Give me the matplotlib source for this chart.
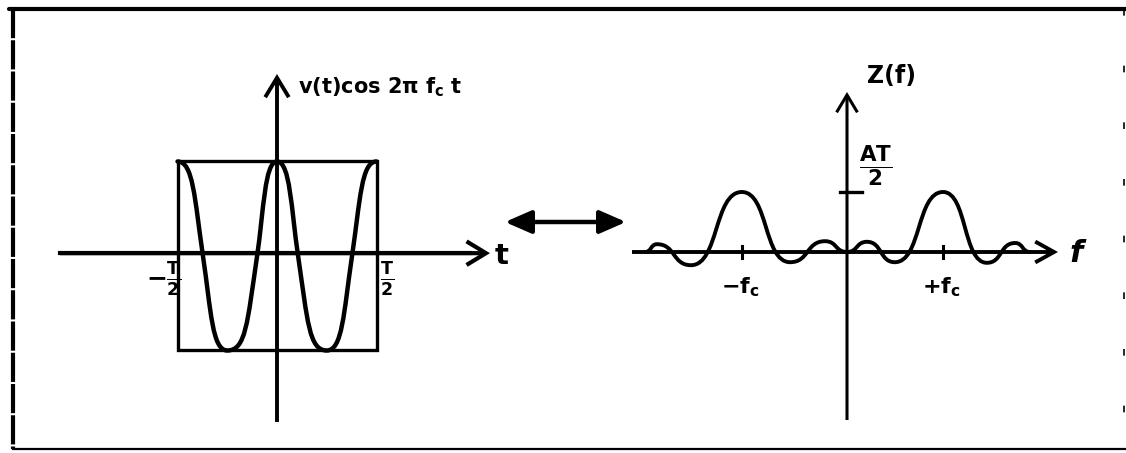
import numpy as np
import matplotlib
matplotlib.use('Agg')
import matplotlib.pyplot as plt
from matplotlib.path import Path
from matplotlib.patches import PathPatch, Rectangle

plt.rcParams['font.family'] = ['DejaVu Sans']
plt.rcParams['mathtext.fontset'] = 'custom'
plt.rcParams['mathtext.rm'] = 'DejaVu Sans:bold'
plt.rcParams['mathtext.it'] = 'DejaVu Sans:bold'
plt.rcParams['mathtext.bf'] = 'DejaVu Sans:bold'

# v(t)cos(2 pi fc t): peaks, troughs and zero crossings,
# t in units of T, amplitude in units of A
t_pts = [-0.5, -0.372, -0.25, -0.10, 0.0, 0.106, 0.25, 0.377, 0.5]
v_pts = [1.0, 0.0, -1.0, 0.0, 1.0, 0.0, -1.0, 0.0, 1.0]
pulse_t = [-0.5, 0.5]      # v(t) = A for |t| < T/2
pulse_a = 1.0
t_ticks = [-0.5, 0.5]
t_tick_labels = [r'$-\frac{T}{2}$', r'$\frac{T}{2}$']

# Z(f): turning points, f in units of 1/T, Z in units of AT/2
f_pts = [-5.99, -5.64, -4.63, -3.12, -1.69, -0.65, 0.0, 0.59, 1.42, 2.85, 4.15, 4.99, 5.43]
z_pts = [0.0, 0.13, -0.22, 1.0, -0.17, 0.18, 0.0, 0.17, -0.17, 1.0, -0.18, 0.15, 0.0]
fc_pos = [-3.12, 2.85]
fc_labels = [r'$-f_c$', r'$+f_c$']
z_peak = 1.0


def smooth_path(xs, ys, k, steep=1.5):
    # cubic Bezier through the points: flat tangent at peaks/troughs,
    # secant slope (scaled by steep) at points where the curve passes through
    n = len(xs)
    slope = []
    for i in range(n):
        if 0 < i < n - 1 and (ys[i] - ys[i - 1]) * (ys[i + 1] - ys[i]) > 0:
            slope.append(steep * (ys[i + 1] - ys[i - 1]) / (xs[i + 1] - xs[i - 1]))
        else:
            slope.append(None)
    verts = [(xs[0], ys[0])]
    codes = [Path.MOVETO]
    for i in range(n - 1):
        x0, y0, x1, y1 = xs[i], ys[i], xs[i + 1], ys[i + 1]
        dx = x1 - x0
        if slope[i] is None:
            c1 = (x0 + k * dx, y0)
        else:
            c1 = (x0 + dx / 3, y0 + slope[i] * dx / 3)
        if slope[i + 1] is None:
            c2 = (x1 - k * dx, y1)
        else:
            c2 = (x1 - dx / 3, y1 - slope[i + 1] * dx / 3)
        verts += [c1, c2, (x1, y1)]
        codes += [Path.CURVE4] * 3
    return Path(verts, codes)


W, H = 1126, 453
fig = plt.figure(figsize=(W / 100, H / 100), dpi=100)


def px_axes(x0, y0, x1, y1):
    ax = fig.add_axes([x0 / W, 1 - y1 / H, (x1 - x0) / W, (y1 - y0) / H])
    ax.set_axis_off()
    ax.patch.set_alpha(0)
    return ax


def arrow(ax, start, tip, lw, hl=1.4, hw=0.8):
    ax.annotate('', xy=tip, xytext=start,
                arrowprops=dict(arrowstyle='->,head_length=%g,head_width=%g' % (hl, hw),
                                lw=lw, color='k', shrinkA=0, shrinkB=0,
                                joinstyle='miter', capstyle='butt'))


# page frame and the double arrow, in pixel units
bg = px_axes(0, 0, W, H)
bg.set_xlim(0, W)
bg.set_ylim(H, 0)
bg.plot([9, 1126], [9, 9], color='k', lw=3.0, solid_capstyle='round')
bg.plot([13, 13], [9, 449], color='k', lw=3.0, dashes=(7, 0.5))
bg.plot([13, 1126], [449, 449], color='k', lw=1.6)
bg.plot([1124, 1124], [9, 449], color='k', lw=1.2, dashes=(4, 30))
bg.annotate('', xy=(626, 222), xytext=(505, 222),
            arrowprops=dict(arrowstyle='<|-|>,head_length=1.6,head_width=0.7',
                            lw=3.2, color='k', shrinkA=0, shrinkB=0))

# ---- left: time signal ----
sx, sy = 199.0, 94.5          # pixels per T, pixels per A
ox, oy = 277.0, 256.0
axl = px_axes(40, 60, 520, 440)
axl.set_xlim((40 - ox) / sx, (520 - ox) / sx)
axl.set_ylim((oy - 440) / sy, (oy - 60) / sy)

axl.add_patch(Rectangle((pulse_t[0], -pulse_a), pulse_t[1] - pulse_t[0], 2 * pulse_a,
                        fill=False, ec='k', lw=2.4))
axl.add_patch(PathPatch(smooth_path(t_pts, v_pts, 0.62, 1.8), fill=False, ec='k',
                        lw=3.2, capstyle='round'))
axl.plot([(60 - ox) / sx, (470 - ox) / sx], [0.03, 0.03], color='k', lw=3.0)
arrow(axl, ((60 - ox) / sx, 0.03), ((490 - ox) / sx, 0.03), 3.0, 1.4, 0.85)
arrow(axl, (0, (oy - 422) / sy), (0, (oy - 74) / sy), 2.8, 1.4, 0.85)
for t, lab in zip(t_ticks, t_tick_labels):
    axl.text(t + (-0.07 if t < 0 else 0.055), (oy - 279) / sy, lab,
             ha='center', va='center', fontsize=18)
axl.text((298 - ox) / sx, (oy - 87) / sy, r'$v(t)\mathrm{cos}\ 2\pi\ f_c\ t$',
         ha='left', va='center', fontsize=15)
axl.text((502 - ox) / sx, (oy - 256) / sy, 't', ha='center', va='center',
         fontsize=21, fontweight='bold')

# ---- right: spectrum ----
fx, fy = 33.7, 60.0           # pixels per 1/T, pixels per AT/2
px0, py0 = 847.0, 252.0
axr = px_axes(600, 60, 1100, 440)
axr.set_xlim((600 - px0) / fx, (1100 - px0) / fx)
axr.set_ylim((py0 - 440) / fy, (py0 - 60) / fy)

axr.add_patch(PathPatch(smooth_path(f_pts, z_pts, 0.55), fill=False, ec='k', lw=2.8,
                        capstyle='round'))
arrow(axr, ((632 - px0) / fx, 0), ((1058 - px0) / fx, 0), 2.8, 1.35, 0.75)
arrow(axr, (0, (py0 - 420) / fy), (0, (py0 - 92) / fy), 2.2, 1.25, 0.75)
axr.plot([-0.2, 0.45], [z_peak, z_peak], color='k', lw=2.4)
for f, lab in zip(fc_pos, fc_labels):
    axr.plot([f, f], [-0.1, 0.1], color='k', lw=2.2)
    axr.text(f - 0.05, -0.58, lab, ha='center', va='center', fontsize=16)
axr.text((876 - px0) / fx, z_peak + (192 - 166) / fy, r'$\frac{AT}{2}$',
         ha='center', va='center', fontsize=22)
axr.text((892 - px0) / fx, (py0 - 76) / fy, 'Z(f)', ha='center', va='center',
         fontsize=17, fontweight='bold')
axr.text((1076 - px0) / fx, (py0 - 254) / fy, 'f', ha='center', va='center',
         fontsize=22, fontweight='bold', style='italic')

fig.savefig('out.png', dpi=100)
